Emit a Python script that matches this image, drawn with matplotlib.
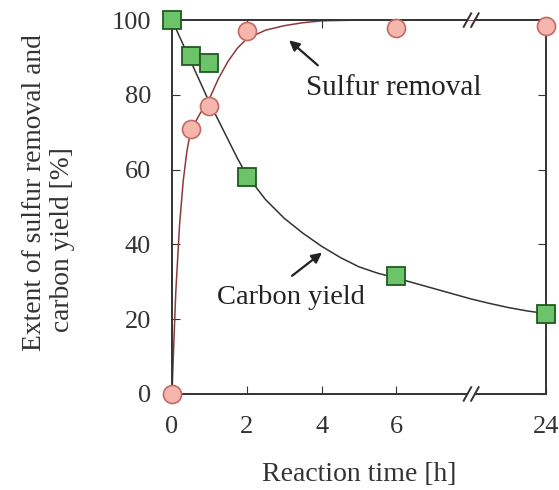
import matplotlib.pyplot as plt
import numpy as np

# Reaction time, with 24 h drawn at position 10 after the axis break
time_pos = [0, 0.5, 1, 2, 6, 10]
tick_pos = [0, 2, 4, 6, 10]
tick_labels = ['0', '2', '4', '6', '24']

sulfur = [0, 71, 77, 97, 98, 98.5]
carbon = [100, 90.5, 88.5, 58, 31.5, 21.5]

# fitted curves
sulfur_fit_t = [0, 0.05, 0.1, 0.2, 0.3, 0.4, 0.5, 0.75, 1, 1.25, 1.5, 1.75, 2,
                2.5, 3, 3.5, 4, 5, 6, 8, 10]
sulfur_fit_y = [0, 14, 27, 45, 57, 65, 70.5, 75, 79, 84.5, 89, 92.5, 95,
                97.3, 98.5, 99.3, 99.8, 100, 100, 100, 100]
carbon_fit_t = [0, 0.25, 0.5, 0.75, 1, 1.25, 1.5, 1.75, 2, 2.5, 3, 3.5, 4, 4.5,
                5, 5.5, 6, 6.5, 7, 7.5, 8, 8.5, 9, 9.5, 10]
carbon_fit_y = [100, 94.5, 89, 83.5, 78, 73, 68, 63, 58.5, 52, 47, 43, 39.5, 36.5,
                34, 32.3, 31, 29.6, 28.2, 26.8, 25.4, 24.2, 23.1, 22.2, 21.5]

plt.rcParams['font.family'] = ['Liberation Serif', 'DejaVu Serif']
ink = '#333333'

fig = plt.figure(figsize=(5.59, 4.90), dpi=100)
ax = fig.add_axes([0.3077, 0.196, 0.669, 0.763])

ax.plot(sulfur_fit_t, sulfur_fit_y, color='#8b3a3a', lw=1.1, zorder=2)
ax.plot(carbon_fit_t, carbon_fit_y, color='#333333', lw=1.1, zorder=2)

ax.plot(time_pos, sulfur, 'o', ms=13, mfc='#f5b7ad', mec='#c46a62', mew=1.2,
        clip_on=False, zorder=4)
ax.plot(time_pos, carbon, 's', ms=12.5, mfc='#6cc36a', mec='#1f5a1f', mew=1.3,
        clip_on=False, zorder=5)

ax.set_xlim(0, 10)
ax.set_ylim(0, 100)
ax.set_xticks(tick_pos)
ax.set_xticklabels(tick_labels)
ax.set_yticks([0, 20, 40, 60, 80, 100])
ax.tick_params(direction='in', length=6, width=0.8, labelsize=19, colors=ink,
               top=True, right=True)
ax.tick_params(axis='x', pad=16)
ax.tick_params(axis='y', pad=15)

# spines with a break at x = 8
for s in ['top', 'bottom']:
    ax.spines[s].set_visible(False)
for s in ['left', 'right']:
    ax.spines[s].set_color(ink)
    ax.spines[s].set_linewidth(1.4)
gap = (7.9, 8.1)
for y in (0, 100):
    ax.plot([0, gap[0]], [y, y], color=ink, lw=1.4, clip_on=False, zorder=3)
    ax.plot([gap[1], 10], [y, y], color=ink, lw=1.4, clip_on=False, zorder=3)
    for gx in gap:
        ax.plot([gx - 0.1, gx + 0.1], [y - 1.8, y + 1.8], color=ink, lw=1.4,
                clip_on=False, zorder=3)

# labels with arrows
arrow = dict(arrowstyle='-|>', color='#222222', lw=1.6, shrinkA=0, shrinkB=0,
             mutation_scale=15)
ax.annotate('', xy=(3.13, 94.6), xytext=(3.9, 87.9), arrowprops=arrow)
ax.text(5.94, 81.8, 'Sulfur removal', fontsize=21, ha='center', va='center',
        color='#222222')
ax.annotate('', xy=(4.01, 37.8), xytext=(3.21, 31.6), arrowprops=arrow)
ax.text(3.18, 25.7, 'Carbon yield', fontsize=20.5, ha='center', va='center',
        color='#222222')

ax.set_xlabel('Reaction time [h]', fontsize=20, color=ink, labelpad=17)
fig.text(0.0625, 0.606, 'Extent of sulfur removal and', rotation=90,
         fontsize=19.8, color=ink, ha='center', va='center')
fig.text(0.111, 0.512, 'carbon yield [%]', rotation=90,
         fontsize=19.8, color=ink, ha='center', va='center')

fig.savefig('out.png', dpi=100)
